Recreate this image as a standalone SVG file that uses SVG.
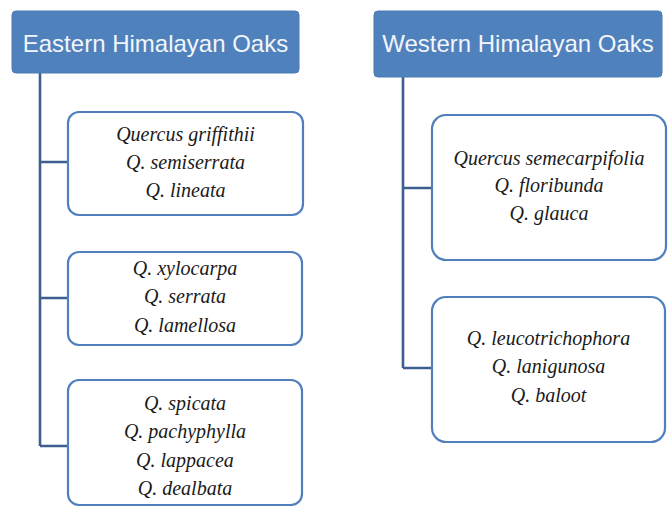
<svg xmlns="http://www.w3.org/2000/svg" width="669" height="508" viewBox="0 0 669 508">
<style>
.hdr{fill:#4f81bd;stroke:#4a7ab5;stroke-width:1}
.hdrt{font-family:"Liberation Sans",Arial,sans-serif;font-size:24px;fill:#f2f5fa;text-anchor:middle}
.box{fill:#ffffff;stroke:#4f7fbc;stroke-width:2.2}
.sp{font-family:"Liberation Serif","Times New Roman",serif;font-style:italic;font-size:20px;fill:#1a1a1a;text-anchor:middle}
.con{fill:none;stroke:#3d5f8f;stroke-width:2.6}
</style>
<rect width="669" height="508" fill="#ffffff"/>
<g id="connectors">
<path class="con" d="M40 73 V446 M40 162 H68 M40 298 H68 M40 446 H68"/>
<path class="con" d="M403 77 V368 M403 188 H432 M403 368 H432"/>
</g>
<g id="eastern">
<rect class="hdr" x="12" y="11" width="287" height="62" rx="4"/>
<text class="hdrt" x="155.5" y="52">Eastern Himalayan Oaks</text>
</g>
<g id="western">
<rect class="hdr" x="374" y="11" width="288" height="66" rx="4"/>
<text class="hdrt" x="518" y="52">Western Himalayan Oaks</text>
</g>
<g id="e1">
<rect class="box" x="68" y="112" width="235" height="103" rx="11"/>
<text class="sp" x="185.5" y="141">Quercus griffithii</text>
<text class="sp" x="185.5" y="169">Q. semiserrata</text>
<text class="sp" x="185.5" y="197">Q. lineata</text>
</g>
<g id="e2">
<rect class="box" x="68" y="252" width="234" height="93" rx="11"/>
<text class="sp" x="185" y="275">Q. xylocarpa</text>
<text class="sp" x="185" y="303">Q. serrata</text>
<text class="sp" x="185" y="332">Q. lamellosa</text>
</g>
<g id="e3">
<rect class="box" x="68" y="380" width="234" height="125" rx="11"/>
<text class="sp" x="185" y="410">Q. spicata</text>
<text class="sp" x="185" y="438">Q. pachyphylla</text>
<text class="sp" x="185" y="467">Q. lappacea</text>
<text class="sp" x="185" y="495">Q. dealbata</text>
</g>
<g id="w1">
<rect class="box" x="432" y="115" width="234" height="145" rx="14"/>
<text class="sp" x="549" y="165">Quercus semecarpifolia</text>
<text class="sp" x="549" y="192">Q. floribunda</text>
<text class="sp" x="549" y="220">Q. glauca</text>
</g>
<g id="w2">
<rect class="box" x="432" y="297" width="233" height="145" rx="14"/>
<text class="sp" x="548.5" y="345">Q. leucotrichophora</text>
<text class="sp" x="548.5" y="373">Q. lanigunosa</text>
<text class="sp" x="548.5" y="402">Q. baloot</text>
</g>
</svg>
